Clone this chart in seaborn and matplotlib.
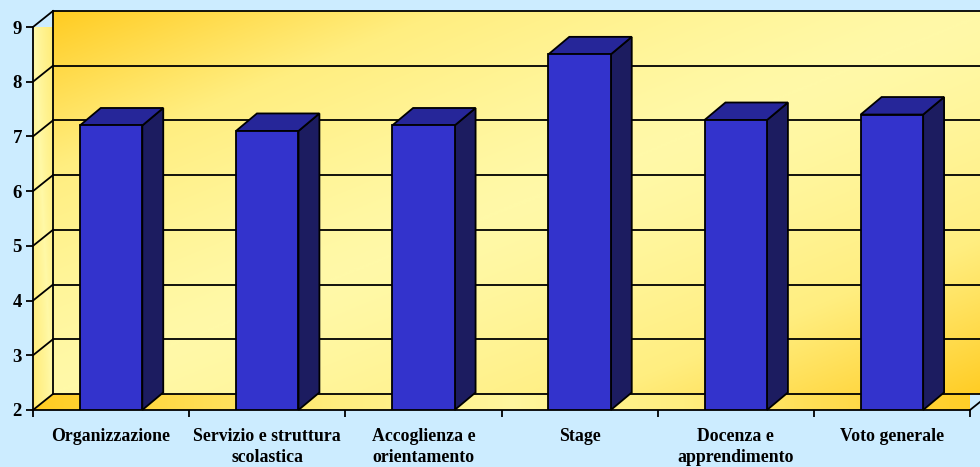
import numpy as np
import matplotlib.pyplot as plt
import seaborn as sns
from matplotlib.colors import LinearSegmentedColormap
from matplotlib.patches import Polygon

categories = ["Organizzazione", "Servizio e struttura scolastica", "Accoglienza e orientamento",
              "Stage", "Docenza e apprendimento", "Voto generale"]
tick_labels = ["Organizzazione", "Servizio e struttura\nscolastica", "Accoglienza e\norientamento",
               "Stage", "Docenza e\napprendimento", "Voto generale"]
values = [7.2, 7.1, 7.2, 8.5, 7.3, 7.4]
y_ticks = [2, 3, 4, 5, 6, 7, 8, 9]

plt.rcParams['font.family'] = ['Liberation Serif', 'DejaVu Serif']

BG = "#CCECFF"
FRONT, TOP, SIDE = "#3333CC", "#262699", "#1C1C60"
wall_cmap = LinearSegmentedColormap.from_list("wall", ["#FFF9A8", "#FFEE80", "#FFCC22"])

fig = plt.figure(figsize=(9.8, 4.67), dpi=100, facecolor=BG)
ax = fig.add_axes([33 / 980, 57 / 467, 937 / 980, 383 / 467])
ax.set_facecolor("none")

sns.barplot(x=categories, y=values, width=0.4, color=FRONT, saturation=1,
            edgecolor="black", linewidth=1.3, ax=ax, zorder=5)

x0, x1 = -0.5, 5.5
y0, y1 = 2, 9
dx, dy = 0.128, 0.293      # depth of walls (data units)
bdx, bdy = 0.134, 0.32     # depth of bars


def gradient(h, w, power=1.3):
    u = np.linspace(0, 1, w)[None, :]
    v = np.linspace(0, 1, h)[:, None]
    return np.abs(u + v - 1) ** power


# back wall
ax.imshow(gradient(200, 400), extent=(x0 + dx, x1 + dx, y0 + dy, y1 + dy), aspect="auto",
          cmap=wall_cmap, vmin=0, vmax=1, zorder=0, clip_on=False, interpolation="bicubic")

# side wall
side_poly = Polygon([(x0, y0), (x0, y1), (x0 + dx, y1 + dy), (x0 + dx, y0 + dy)],
                    closed=True, transform=ax.transData, facecolor="none")
im = ax.imshow(gradient(200, 20, 0.8)[:, ::-1] * 0.6, extent=(x0, x0 + dx, y0, y1 + dy), aspect="auto",
               cmap=wall_cmap, vmin=0, vmax=1, zorder=0.5, interpolation="bicubic")
im.set_clip_path(side_poly)

# floor
floor_poly = Polygon([(x0, y0), (x1, y0), (x1 + dx, y0 + dy), (x0 + dx, y0 + dy)],
                     closed=True, transform=ax.transData, facecolor="none")
im = ax.imshow(np.abs(np.linspace(-1, 1, 400))[None, :].repeat(10, 0) ** 0.8 * 0.9 + 0.1,
               extent=(x0, x1 + dx, y0, y0 + dy), aspect="auto",
               cmap=wall_cmap, vmin=0, vmax=1, zorder=0.5, interpolation="bicubic")
im.set_clip_path(floor_poly)

lw = 1.3
for k in y_ticks:
    ax.plot([x0 + dx, x1 + dx + 0.3], [k + dy] * 2, color="black", lw=lw, clip_on=False, zorder=1)
    ax.plot([x0, x0 + dx], [k, k + dy], color="black", lw=lw, clip_on=False, zorder=1)
ax.plot([x0 + dx, x0 + dx], [y0 + dy, y1 + dy], color="black", lw=lw, clip_on=False, zorder=1)
ax.plot([x1, x1 + dx], [y0, y0 + dy], color="black", lw=lw, clip_on=False, zorder=1)

# 3D faces of the bars
for p in ax.patches:
    bx, bw, bh = p.get_x(), p.get_width(), p.get_height()
    side = Polygon([(bx + bw, y0), (bx + bw, bh), (bx + bw + bdx, bh + bdy), (bx + bw + bdx, y0 + bdy)],
                   closed=True, facecolor=SIDE, edgecolor="black", lw=lw, zorder=4, clip_on=False)
    top = Polygon([(bx, bh), (bx + bw, bh), (bx + bw + bdx, bh + bdy), (bx + bdx, bh + bdy)],
                  closed=True, facecolor=TOP, edgecolor="black", lw=lw, zorder=4, clip_on=False)
    ax.add_patch(side)
    ax.add_patch(top)

ax.set_xlim(x0, x1)
ax.set_ylim(y0, y1)

for s in ["top", "right"]:
    ax.spines[s].set_visible(False)
for s in ["left", "bottom"]:
    ax.spines[s].set_color("black")
    ax.spines[s].set_linewidth(lw)
    ax.spines[s].set_zorder(6)

ax.set_yticks(y_ticks)
ax.set_yticklabels([str(v) for v in y_ticks], fontweight="bold", fontsize=13.5)
ax.tick_params(axis="y", left=True, length=5, width=lw, pad=3, direction="out")

ax.set_xticks(range(len(categories)))
ax.set_xticklabels(tick_labels, fontweight="bold", fontsize=12.8, linespacing=1.3)
ax.set_xticks(np.arange(x0, x1 + 1, 1), minor=True)
ax.tick_params(axis="x", which="major", bottom=True, length=0, pad=13)
ax.tick_params(axis="x", which="minor", bottom=True, length=5, width=lw, direction="out")
ax.set_xlabel("")
ax.set_ylabel("")

fig.savefig("out.png", dpi=100, facecolor=BG)
